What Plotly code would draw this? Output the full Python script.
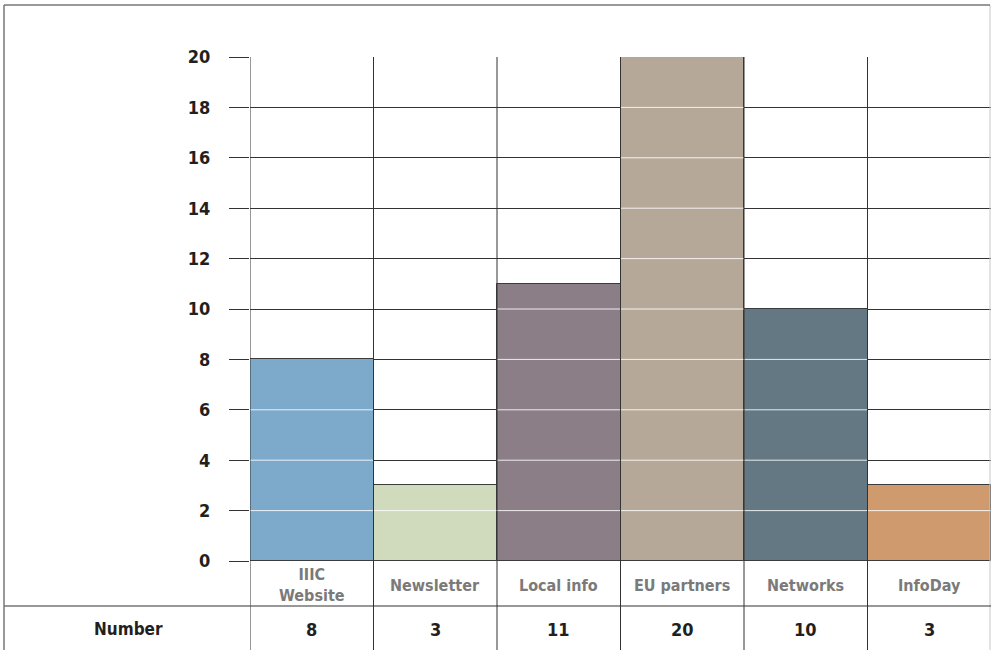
import plotly.graph_objects as go

# Data
categories = ["IIIC<br>Website", "Newsletter", "Local info", "EU partners", "Networks", "InfoDay"]
counts = [8, 3, 11, 20, 10, 3]
row_label = "Number"
y_ticks = [0, 2, 4, 6, 8, 10, 12, 14, 16, 18, 20]
bar_colors = ["#7DAACB", "#CFDBBC", "#8B7E87", "#B5A898", "#637883", "#CF9B6E"]

# Canvas geometry (pixels)
W, H = 991, 650
L, R, T, B = 250, 0, 57, 89
PW, PH = W - L - R, H - T - B


def fx(xp):
    """pixel x -> paper x"""
    return (xp - L) / PW


def fy(yp):
    """pixel y -> paper y"""
    return (H - B - yp) / PH


FONT = "DejaVu Sans Condensed, Liberation Sans Narrow, Arial Narrow, sans-serif"
NUM_FONT = "Liberation Sans Narrow, DejaVu Sans Condensed, sans-serif"
DARK = "#231F20"
LINE = "#333333"

n = len(categories)
xs = list(range(n))

fig = go.Figure(
    go.Bar(
        x=xs,
        y=counts,
        width=1,
        marker=dict(color=bar_colors, line=dict(color="#3C3C3C", width=1)),
        hoverinfo="y",
    )
)

shapes = []
# light grid lines visible across the bars
for i, v in enumerate(counts):
    for t in y_ticks:
        if 0 < t < v:
            shapes.append(dict(type="line", xref="x", yref="y",
                               x0=i - 0.5, x1=i + 0.5, y0=t, y1=t,
                               line=dict(color="rgba(255,255,255,0.85)", width=1),
                               layer="above"))
# column separators running through the plot and the table
for i in range(n):
    shapes.append(dict(type="line", xref="x", yref="paper",
                       x0=i - 0.5, x1=i - 0.5, y0=1, y1=fy(H),
                       line=dict(color=LINE, width=1), layer="above"))
# right edge
shapes.append(dict(type="line", xref="paper", yref="paper",
                   x0=fx(990), x1=fx(990), y0=fy(5), y1=fy(H),
                   line=dict(color="#C8C8C8", width=1), layer="above"))
# table divider between category row and value row
shapes.append(dict(type="line", xref="paper", yref="paper",
                   x0=fx(4), x1=1, y0=fy(606), y1=fy(606),
                   line=dict(color=LINE, width=1.2), layer="above"))
# outer frame: top and left
shapes.append(dict(type="line", xref="paper", yref="paper",
                   x0=fx(4), x1=fx(990), y0=fy(5), y1=fy(5),
                   line=dict(color="#777777", width=1.5), layer="above"))
shapes.append(dict(type="line", xref="paper", yref="paper",
                   x0=fx(4), x1=fx(4), y0=fy(5), y1=fy(H),
                   line=dict(color="#777777", width=1.5), layer="above"))

annotations = []
for i, (c, v) in enumerate(zip(categories, counts)):
    annotations.append(dict(x=i, y=fy(585), xref="x", yref="paper", text=f"<b>{c}</b>",
                            showarrow=False, xanchor="center", yanchor="middle",
                            font=dict(family=FONT, size=16, color="#7A7A7A")))
    annotations.append(dict(x=i, y=fy(629), xref="x", yref="paper", text=f"<b>{v}</b>",
                            showarrow=False, xanchor="center", yanchor="middle",
                            font=dict(family=NUM_FONT, size=18, color=DARK)))
annotations.append(dict(x=fx(128), y=fy(629), xref="paper", yref="paper",
                        text=f"<b>{row_label}</b>", showarrow=False,
                        xanchor="center", yanchor="middle",
                        font=dict(family=FONT, size=17, color=DARK)))

fig.update_layout(
    width=W, height=H,
    margin=dict(l=L, r=R, t=T, b=B, pad=0),
    paper_bgcolor="white", plot_bgcolor="white",
    showlegend=False,
    bargap=0,
    shapes=shapes,
    annotations=annotations,
    xaxis=dict(range=[-0.5, n - 0.5], showticklabels=False, showgrid=False,
               zeroline=False, showline=False, ticks="", fixedrange=True),
    yaxis=dict(range=[0, 20], tickmode="array", tickvals=y_ticks,
               ticktext=[f"<b>{t}</b>" for t in y_ticks],
               showgrid=True, gridcolor=LINE, gridwidth=1, zeroline=False,
               showline=False, ticks="outside", ticklen=20, tickcolor=LINE, tickwidth=1,
               ticklabelstandoff=15,
               tickfont=dict(family=NUM_FONT, size=18, color=DARK), fixedrange=True),
)

fig.write_html("out.html")
